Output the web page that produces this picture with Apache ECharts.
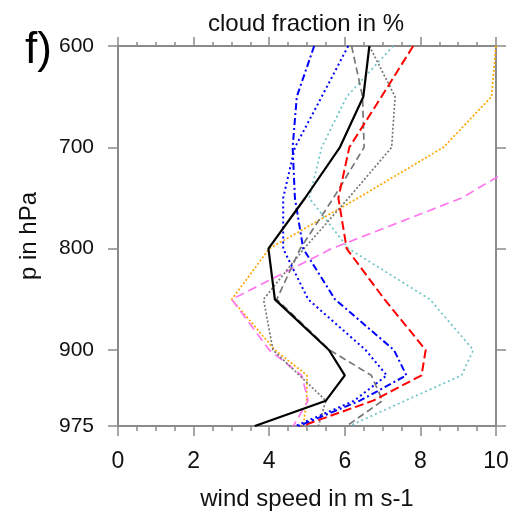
<!DOCTYPE html>
<html>
  <head>
    <meta charset="utf-8">
    <title>wind speed profile</title>
  </head>
  <style media="screen">
    html,body,#chart {
      margin:0;
      padding: 0;
      width: 515px;
      height: 512px;
      background: #fff;
    }
  </style>
  <body>
    <div id="chart"></div>

    <script src="https://cdn.jsdelivr.net/npm/echarts@6/dist/echarts.min.js"></script>

    <script type="text/javascript">
      // pressure levels, top to bottom
      var levels = [600, 650, 700, 750, 800, 850, 900, 925, 950, 975]

      // wind speed in m/s at each level
      var blackSolid  = [6.65, 6.49, 5.87, 4.95, 3.98, 4.15, 5.58, 6.00, 5.50, 3.62]
      var redDash     = [7.81, 6.97, 6.12, 5.83, 6.05, 7.05, 8.14, 8.03, 6.75, 4.86]
      var blueDashDot = [5.19, 4.73, 4.62, 4.68, 4.90, 5.74, 7.30, 7.63, 6.40, 4.78]
      var blueDot     = [6.09, 5.39, 4.68, 4.37, 4.37, 5.03, 6.55, 7.11, 6.25, 4.70]
      var cyanDot     = [7.28, 6.05, 5.39, 5.06, 6.10, 8.25, 9.40, 9.09, 7.60, 6.12]
      var grayDash    = [6.18, 6.47, 6.51, 5.70, 4.82, 4.20, 5.60, 6.70, 7.00, 6.05]
      var grayDot     = [6.65, 7.33, 7.24, 6.10, 4.92, 3.85, 4.10, 4.80, 5.50, 5.30]
      var orangeDot   = [10.0, 9.88, 8.61, 6.35, 4.00, 3.01, 4.15, 5.00, 4.99, 4.90]
      var pinkDash    = [12.5, 12.0, 11.37, 9.09, 5.65, 3.01, 4.00, 4.86, 5.03, 4.64]

      var xTicks = [0, 2, 4, 6, 8, 10]
      var yTicks = [600, 700, 800, 900, 975]

      var frame = '#8a8a8a'
      var font = 'Liberation Sans'

      function profile(vals) {
        return levels.map(function (p, i) { return [vals[i], p] })
      }

      function line(vals, color, width, dash) {
        return {
          type: 'line',
          data: profile(vals),
          symbol: 'none',
          clip: true,
          lineStyle: { color: color, width: width, type: dash }
        }
      }

      var chart = echarts.init(document.getElementById('chart'), null, { renderer: 'canvas' })

      var xBase = {
        type: 'value',
        min: xTicks[0],
        max: xTicks[xTicks.length - 1],
        interval: 2,
        axisLine: { show: true, onZero: false, lineStyle: { color: frame, width: 2 } },
        splitLine: { show: false },
        minorTick: { show: true, splitNumber: 4, length: 5, lineStyle: { color: frame, width: 1.5 } },
        axisTick: { show: true, inside: false, length: 10, lineStyle: { color: frame, width: 1.5 } }
      }

      var yBase = {
        type: 'value',
        inverse: true,
        min: yTicks[0],
        max: yTicks[yTicks.length - 1],
        interval: 100,
        axisLine: { show: true, onZero: false, lineStyle: { color: frame, width: 2 } },
        splitLine: { show: false },
        axisTick: { show: true, inside: false, length: 10, lineStyle: { color: frame, width: 1.5 } }
      }

      chart.setOption({
        animation: false,
        grid: { left: 118, right: 19, top: 46, bottom: 86, containLabel: false, outerBoundsMode: 'none' },
        graphic: [
          {
            type: 'text', x: 306, y: 12,
            style: { text: 'cloud fraction in %', font: '24px "' + font + '"', fill: '#111', textAlign: 'center', textVerticalAlign: 'top' }
          },
          {
            type: 'text', x: 25, y: 29,
            style: { text: 'f)', font: '44px "' + font + '"', fill: '#000', textVerticalAlign: 'top' }
          }
        ],
        xAxis: [
          Object.assign({}, xBase, {
            position: 'bottom',
            name: 'wind speed in m s-1',
            nameLocation: 'middle',
            nameGap: 61,
            nameTextStyle: { fontFamily: font, fontSize: 24, color: '#111' },
            axisLabel: { fontFamily: font, fontSize: 23, color: '#111', margin: 24 }
          }),
          Object.assign({}, xBase, {
            position: 'top',
            axisLabel: { show: false },
            axisTick: { show: true, length: 9, lineStyle: { color: frame, width: 1.5 } },
            minorTick: { show: true, splitNumber: 4, length: 4, lineStyle: { color: frame, width: 1.5 } }
          })
        ],
        yAxis: [
          Object.assign({}, yBase, {
            position: 'left',
            name: 'p in hPa',
            nameLocation: 'middle',
            nameRotate: 90,
            nameGap: 77,
            nameTextStyle: { fontFamily: font, fontSize: 24, color: '#111' },
            axisLabel: { fontFamily: font, fontSize: 21, color: '#111', margin: 24 }
          }),
          Object.assign({}, yBase, {
            position: 'right',
            axisLabel: { show: false }
          })
        ],
        series: [
          line(cyanDot, '#6fc4c8', 1.7, [2, 3]),
          line(orangeDot, '#ffa500', 1.7, [2, 2]),
          line(pinkDash, '#ff77ee', 1.7, [9, 5]),
          line(grayDot, '#777777', 1.7, [2, 2]),
          line(grayDash, '#777777', 1.7, [7, 4]),
          line(redDash, '#ff0000', 2, [9, 4]),
          line(blueDot, '#0000ff', 2, [2, 3]),
          line(blueDashDot, '#0000ff', 2, [7, 3, 2, 3]),
          line(blackSolid, '#000000', 2.2, 'solid')
        ]
      })
    </script>
  </body>
</html>
